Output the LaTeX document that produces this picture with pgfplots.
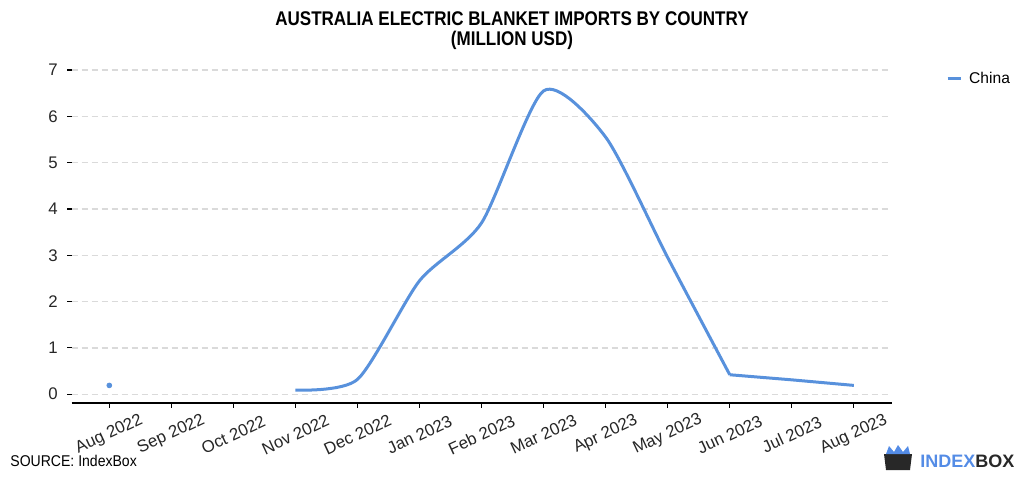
\documentclass[border=0pt]{standalone}
\usepackage{pgfplots}
\pgfplotsset{compat=1.18}
\usepackage{fontspec}
\setmainfont{Liberation Sans}
\newfontfamily\titlefont{Liberation Sans}[FakeStretch=0.86]
\newfontfamily\narrowfont{Liberation Sans}[FakeStretch=0.9]
\definecolor{lineblue}{RGB}{88,145,220}
\definecolor{gridgray}{RGB}{218,218,218}
\definecolor{logoblue}{RGB}{84,140,230}
\definecolor{logodark}{RGB}{40,40,40}
\begin{document}
\begin{tikzpicture}
\path[use as bounding box] (0,0) rectangle (512pt,244pt);
\begin{axis}[
  at={(35.85pt,42.5pt)}, anchor=south west,
  scale only axis, width=410pt, height=166.5pt,
  xmin=-0.606, xmax=12.61, ymin=-0.19, ymax=7.0,
  clip=false,
  axis x line*=bottom, axis y line*=left,
  y axis line style={draw=none},
  x axis line style={line width=0.8pt, black, -},
  xtick={0,...,12},
  xticklabels={Aug 2022,Sep 2022,Oct 2022,Nov 2022,Dec 2022,Jan 2023,Feb 2023,Mar 2023,Apr 2023,May 2023,Jun 2023,Jul 2023,Aug 2023},
  ytick={0,...,7},
  tick align=outside,
  major tick length=2.3pt,
  tick style={black, line width=0.6pt},
  ymajorgrids,
  grid style={gridgray, dash pattern=on 3pt off 2pt, line width=0.7pt},
  /pgf/number format/assume math mode=true,
  tick label style={font=\fontsize{8.4}{9}\selectfont, text=black!85},
  xticklabel style={yshift=-13.5pt, rotate=25, anchor=center},
  yticklabel style={xshift=-1.2pt},
  legend style={at={(1.066,0.973)}, anchor=west, draw=none, fill=none,
    font=\fontsize{7.8}{9}\selectfont, inner sep=0pt, row sep=0pt},
  legend cell align=left,
  legend image code/.code={\draw[#1, line width=1.5pt] (0pt,0pt) -- (6.5pt,0pt);},
]
\addplot[lineblue, line width=1.5pt, smooth, tension=0.42, forget plot] coordinates {
  (3,0.09) (4,0.32) (5,2.45) (6,3.7) (7,6.55) (8,5.55) (9,2.95) (10,0.42)
};
\addplot[lineblue, line width=1.5pt, forget plot, line join=round] coordinates {
  (10,0.42) (11,0.31) (12,0.19)
};
\addplot[lineblue, only marks, mark=*, mark size=1.2pt, forget plot] coordinates {(0,0.19)};
\addlegendimage{lineblue}
\addlegendentry{\hspace{1.5pt}China}
\end{axis}
\node[align=center, font=\titlefont\bfseries\fontsize{9.9}{10}\selectfont] at (256pt,228.8pt) {AUSTRALIA ELECTRIC BLANKET IMPORTS BY COUNTRY\\(MILLION USD)};
\node[anchor=west, font=\narrowfont\fontsize{7.8}{9}\selectfont, inner sep=0pt] at (5pt,13.5pt) {SOURCE: IndexBox};
\fill[logodark] (443pt,9pt) -- (455pt,9pt) -- (456pt,17pt) -- (442pt,17pt) -- cycle;
\fill[logoblue] (443pt,17pt) -- (444.5pt,21pt) -- (447pt,18pt) -- (449pt,21.5pt) -- (451.5pt,18pt) -- (454pt,21pt) -- (455pt,17pt) -- cycle;
\node[anchor=west, font=\bfseries\fontsize{9}{10}\selectfont, inner sep=0pt] at (460pt,13.5pt) {\textcolor{logoblue}{INDEX}\textcolor{logodark}{BOX}};
\end{tikzpicture}
\end{document}
